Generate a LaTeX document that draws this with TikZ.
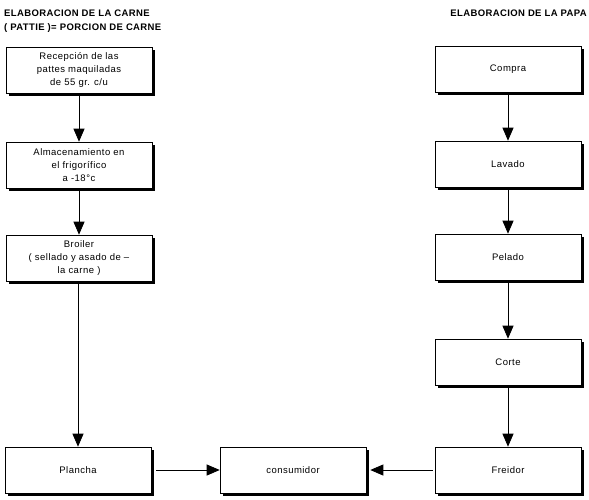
\documentclass[tikz,border=0pt]{standalone}
\usepackage{fontspec}
\setmainfont{Liberation Sans}
\usetikzlibrary{arrows.meta,shadows}
\begin{document}
\begin{tikzpicture}[x=1pt,y=-1pt,
  box/.style={draw=black,line width=0.6pt,fill=white,minimum width=146pt,minimum height=46pt,
    inner sep=1pt,align=center,font=\fontsize{9.5}{13}\selectfont\addfontfeatures{LetterSpace=5},
    drop shadow={shadow xshift=2.5pt,shadow yshift=-2.5pt,fill=black,opacity=1}},
  title/.style={font=\bfseries\fontsize{9.5}{14}\selectfont\addfontfeatures{LetterSpace=4},align=left,inner sep=0pt},
  conn/.style={line width=0.8pt,-{Triangle[width=11pt,length=13pt]}}]
\useasboundingbox (0,0) rectangle (589,499);
\node[title,anchor=north west] (t1) at (4,10) {ELABORACION DE LA CARNE\\( PATTIE )= PORCION DE CARNE};
\node[title,anchor=north east] (t2) at (587,10) {ELABORACION DE LA PAPA};

\node[box] (rec) at (79,70) {Recepción de las\\pattes maquiladas\\de 55 gr. c/u};
\node[box] (alm) at (79,165) {Almacenamiento en\\el frigorífico\\a -18°c};
\node[box] (bro) at (79,258) {Broiler\\( sellado y asado de --\\la carne )};
\node[box] (pla) at (78,470) {Plancha};
\node[box] (con) at (293,470) {consumidor};

\node[box] (com) at (508,69) {Compra};
\node[box] (lav) at (508,164) {Lavado};
\node[box] (pel) at (508,257) {Pelado};
\node[box] (cor) at (508,362) {Corte};
\node[box] (fre) at (508,470) {Freidor};

\draw[conn] (rec) -- (alm);
\draw[conn] (alm) -- (bro);
\draw[conn] (bro.south -| pla.north) -- (pla);
\draw[conn] (com) -- (lav);
\draw[conn] (lav) -- (pel);
\draw[conn] (pel) -- (cor);
\draw[conn] (cor) -- (fre);
\draw[conn] ([xshift=5pt]pla.east) -- (con);
\draw[conn] ([xshift=-2pt]fre.west) -- ([xshift=4pt]con.east);
\end{tikzpicture}
\end{document}
